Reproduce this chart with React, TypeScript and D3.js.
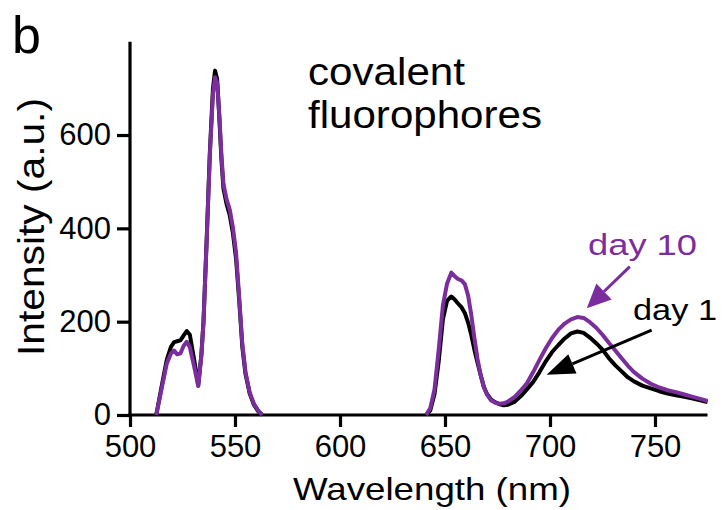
import React, { useEffect, useRef } from 'react';
import * as d3 from 'd3';

// green band wavelengths and intensities
const bandAWavelength = [512.5, 515, 517.5, 519.5, 521, 522.5, 524, 525.5, 527, 528.5, 530.5, 532.5, 534, 535, 536.5, 538, 539.5, 540.5, 541.5, 542.5, 543.5, 544.5, 546, 547.5, 549, 550.5, 552, 553.5, 555, 557, 559, 561, 563];
const bandADay1 = [0, 60, 118, 146, 156, 158, 160, 170, 180, 172, 120, 64, 130, 200, 375, 560, 700, 738, 720, 640, 550, 485, 452, 428, 390, 335, 245, 145, 88, 46, 22, 8, 0];
const bandADay10 = [0, 55, 110, 132, 138, 130, 132, 148, 157, 145, 105, 62, 128, 200, 372, 555, 688, 724, 712, 645, 560, 495, 462, 440, 402, 348, 252, 152, 92, 48, 24, 10, 0];

// far-red band
const bandBWavelength = [641, 643, 645, 647, 649, 651, 653, 654.5, 656, 658, 659.5, 661, 662.5, 664, 665.5, 667, 668.5, 670, 672, 674, 676, 678, 680, 683, 686, 689, 692, 695, 698, 701, 704, 707, 710, 713, 716, 719, 722, 725, 728, 731, 734, 737, 740, 744, 748, 752, 756, 760, 764, 768, 772, 775];
const bandBDay1 = [0, 10, 45, 115, 205, 245, 254, 248, 240, 230, 218, 198, 172, 140, 112, 85, 60, 45, 33, 27, 23, 21, 22, 28, 40, 55, 71, 92, 115, 135, 150, 164, 175, 179, 176, 166, 154, 140, 122, 107, 94, 81, 72, 63, 57, 51, 46, 42, 39, 35, 31, 28];
const bandBDay10 = [0, 15, 55, 140, 235, 282, 305, 298, 292, 288, 280, 256, 215, 165, 120, 85, 60, 44, 31, 26, 24, 25, 29, 38, 52, 68, 92, 118, 143, 165, 183, 196, 205, 210, 208, 199, 187, 172, 155, 139, 122, 106, 92, 78, 67, 59, 53, 49, 44, 39, 34, 30];

const xTicks = [500, 550, 600, 650, 700, 750];
const yTicks = [0, 200, 400, 600];

const PURPLE = '#7b2d9e';
const FONT = '"Liberation Sans", Arial, Helvetica, sans-serif';

type Pt = { x: number; y: number | null };

const toSeries = (wlA: number[], vA: number[], wlB: number[], vB: number[]): Pt[] => [
  ...wlA.map((x, i) => ({ x, y: vA[i] })),
  { x: 600, y: null }, // gap between the two bands
  ...wlB.map((x, i) => ({ x, y: vB[i] })),
];

const day1 = toSeries(bandAWavelength, bandADay1, bandBWavelength, bandBDay1);
const day10 = toSeries(bandAWavelength, bandADay10, bandBWavelength, bandBDay10);

const App: React.FC = () => {
  const svgRef = useRef<SVGSVGElement>(null);

  useEffect(() => {
    if (!svgRef.current) return;
    const svg = d3.select(svgRef.current);
    svg.selectAll('*').remove();

    const x = d3.scaleLinear().domain([500, 775]).range([130, 707.5]);
    const y = d3.scaleLinear().domain([0, 800]).range([415, 41.7]);

    // panel letter
    svg.append('text')
      .attr('x', 12).attr('y', 53)
      .attr('font-size', 52).attr('font-family', FONT)
      .text('b');

    // axes
    const xAxis = svg.append('g')
      .attr('transform', `translate(0,${y(0)})`)
      .call(d3.axisBottom(x).tickValues(xTicks).tickSize(12).tickSizeOuter(0).tickPadding(8));
    const yAxis = svg.append('g')
      .attr('transform', `translate(${x(500)},0)`)
      .call(d3.axisLeft(y).tickValues(yTicks).tickSize(13).tickSizeOuter(0).tickPadding(6));

    [xAxis, yAxis].forEach(g => {
      g.select('.domain').attr('stroke', '#000').attr('stroke-width', 3.2);
      g.selectAll('.tick line').attr('stroke', '#000').attr('stroke-width', 3.2);
      g.selectAll('.tick text')
        .attr('font-size', 31).attr('font-family', FONT).attr('fill', '#000');
    });
    xAxis.select('.domain').attr('d', `M${x(500) - 1.6},0H${x(775)}`);
    yAxis.select('.domain').attr('d', `M0,${y(800)}V${y(0) + 1.6}`);

    // axis titles
    svg.append('text')
      .attr('x', 432).attr('y', 500)
      .attr('text-anchor', 'middle')
      .attr('font-size', 32).attr('font-family', FONT)
      .attr('textLength', 278).attr('lengthAdjust', 'spacingAndGlyphs')
      .text('Wavelength (nm)');

    svg.append('text')
      .attr('transform', 'translate(44,227) rotate(-90)')
      .attr('text-anchor', 'middle')
      .attr('font-size', 37).attr('font-family', FONT)
      .attr('textLength', 258).attr('lengthAdjust', 'spacingAndGlyphs')
      .text('Intensity (a.u.)');

    // spectra
    const line = d3.line<Pt>()
      .defined(d => d.y !== null)
      .x(d => x(d.x))
      .y(d => y(d.y as number));

    svg.append('path')
      .datum(day1)
      .attr('d', line)
      .attr('fill', 'none')
      .attr('stroke', '#000')
      .attr('stroke-width', 4)
      .attr('stroke-linejoin', 'round');

    svg.append('path')
      .datum(day10)
      .attr('d', line)
      .attr('fill', 'none')
      .attr('stroke', PURPLE)
      .attr('stroke-width', 4)
      .attr('stroke-linejoin', 'round');

    // title
    const title = svg.append('text')
      .attr('font-size', 38).attr('font-family', FONT);
    title.append('tspan').attr('x', 308).attr('y', 85)
      .attr('textLength', 157).attr('lengthAdjust', 'spacingAndGlyphs').text('covalent');
    title.append('tspan').attr('x', 308).attr('y', 128)
      .attr('textLength', 234).attr('lengthAdjust', 'spacingAndGlyphs').text('fluorophores');

    // annotation arrows, in data units
    const arrow = (x0: number, y0: number, x1: number, y1: number, color: string, headLen: number, headW: number) => {
      const px0 = x(x0), py0 = y(y0), px1 = x(x1), py1 = y(y1);
      const ang = Math.atan2(py1 - py0, px1 - px0);
      const bx = px1 - headLen * Math.cos(ang), by = py1 - headLen * Math.sin(ang);
      const nx = -Math.sin(ang) * headW / 2, ny = Math.cos(ang) * headW / 2;
      svg.append('line')
        .attr('x1', px0).attr('y1', py0).attr('x2', bx).attr('y2', by)
        .attr('stroke', color).attr('stroke-width', 3);
      svg.append('path')
        .attr('d', `M${px1},${py1}L${bx + nx},${by + ny}L${bx - nx},${by - ny}Z`)
        .attr('fill', color);
    };
    arrow(738, 318, 717.5, 229, PURPLE, 24, 22);
    arrow(748.4, 182, 698.4, 86, '#000', 28, 21);

    svg.append('text')
      .attr('x', 588).attr('y', 255)
      .attr('font-size', 30).attr('font-family', FONT).attr('fill', PURPLE)
      .attr('textLength', 109).attr('lengthAdjust', 'spacingAndGlyphs')
      .text('day 10');

    svg.append('text')
      .attr('x', 633).attr('y', 320)
      .attr('font-size', 30).attr('font-family', FONT).attr('fill', '#000')
      .attr('textLength', 84).attr('lengthAdjust', 'spacingAndGlyphs')
      .text('day 1');
  }, []);

  return (
    <div style={{ position: 'absolute', left: 0, top: 0, width: 722, height: 510, background: '#fff' }}>
      <svg ref={svgRef} width={722} height={510}></svg>
    </div>
  );
};

export default App;
